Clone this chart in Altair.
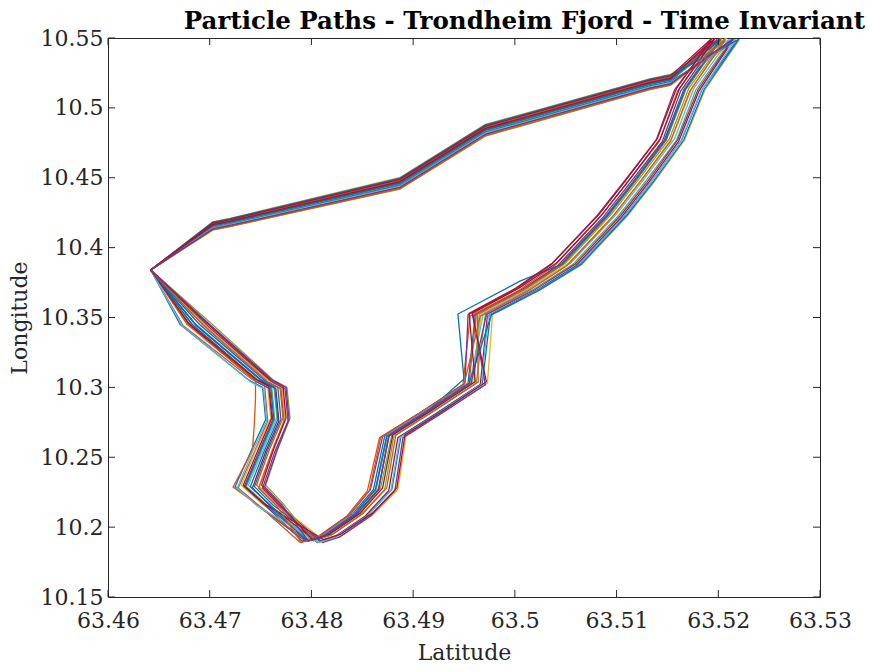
import altair as alt
import pandas as pd

# ---------------- data ----------------
x_ticks = [63.46, 63.47, 63.48, 63.49, 63.50, 63.51, 63.52, 63.53]
y_ticks = [10.15, 10.20, 10.25, 10.30, 10.35, 10.40, 10.45, 10.50, 10.55]

lat_01 = [63.4642, 63.4671, 63.4739, 63.4752, 63.4755, 63.4741, 63.4725, 63.4746, 63.4794, 63.4811, 63.4840, 63.4861, 63.4872, 63.4910, 63.4954, 63.4961, 63.5008, 63.5045, 63.5090, 63.5117, 63.5147, 63.5166, 63.5201, 63.5153, 63.5133, 63.4971, 63.4887, 63.4720, 63.4703, 63.4642]
lon_01 = [10.384, 10.345, 10.305, 10.300, 10.277, 10.255, 10.229, 10.216, 10.190, 10.194, 10.209, 10.227, 10.265, 10.282, 10.303, 10.352, 10.370, 10.388, 10.423, 10.448, 10.477, 10.513, 10.549, 10.5232, 10.5202, 10.4874, 10.4494, 10.4204, 10.4179, 10.384]

lat_02 = [63.4642, 63.4674, 63.4741, 63.4754, 63.4757, 63.4744, 63.4728, 63.4749, 63.4789, 63.4806, 63.4835, 63.4855, 63.4867, 63.4905, 63.4949, 63.4956, 63.5003, 63.5039, 63.5084, 63.5111, 63.5142, 63.5160, 63.5196, 63.5153, 63.5133, 63.4971, 63.4887, 63.4720, 63.4703, 63.4642]
lon_02 = [10.384, 10.344, 10.306, 10.301, 10.276, 10.254, 10.228, 10.215, 10.189, 10.193, 10.208, 10.226, 10.264, 10.281, 10.302, 10.351, 10.369, 10.387, 10.422, 10.447, 10.476, 10.512, 10.549, 10.5184, 10.5154, 10.4823, 10.4443, 10.4168, 10.4143, 10.384]

lat_03 = [63.4642, 63.4677, 63.4744, 63.4757, 63.4760, 63.4746, 63.4731, 63.4751, 63.4798, 63.4815, 63.4845, 63.4866, 63.4877, 63.4914, 63.4958, 63.4967, 63.5014, 63.5053, 63.5098, 63.5125, 63.5154, 63.5174, 63.5208, 63.5153, 63.5133, 63.4971, 63.4887, 63.4720, 63.4703, 63.4642]
lon_03 = [10.384, 10.346, 10.305, 10.300, 10.278, 10.256, 10.230, 10.217, 10.191, 10.195, 10.210, 10.228, 10.266, 10.283, 10.304, 10.353, 10.371, 10.389, 10.424, 10.449, 10.478, 10.514, 10.550, 10.5240, 10.5210, 10.4882, 10.4502, 10.4210, 10.4185, 10.384]

lat_04 = [63.4642, 63.4680, 63.4746, 63.4759, 63.4762, 63.4749, 63.4734, 63.4754, 63.4791, 63.4808, 63.4838, 63.4858, 63.4870, 63.4907, 63.4951, 63.4954, 63.5000, 63.5036, 63.5081, 63.5108, 63.5139, 63.5157, 63.5193, 63.5153, 63.5133, 63.4971, 63.4887, 63.4720, 63.4703, 63.4642]
lon_04 = [10.384, 10.345, 10.304, 10.299, 10.277, 10.255, 10.229, 10.216, 10.190, 10.194, 10.209, 10.227, 10.265, 10.282, 10.303, 10.352, 10.370, 10.388, 10.423, 10.448, 10.477, 10.513, 10.548, 10.5210, 10.5180, 10.4851, 10.4471, 10.4188, 10.4163, 10.384]

lat_05 = [63.4642, 63.4682, 63.4748, 63.4761, 63.4764, 63.4751, 63.4736, 63.4756, 63.4802, 63.4819, 63.4849, 63.4872, 63.4881, 63.4918, 63.4962, 63.4971, 63.5018, 63.5057, 63.5102, 63.5129, 63.5159, 63.5178, 63.5213, 63.5153, 63.5133, 63.4971, 63.4887, 63.4720, 63.4703, 63.4642]
lon_05 = [10.384, 10.345, 10.305, 10.300, 10.277, 10.255, 10.229, 10.216, 10.190, 10.194, 10.209, 10.227, 10.265, 10.282, 10.303, 10.352, 10.370, 10.388, 10.423, 10.448, 10.477, 10.513, 10.549, 10.5160, 10.5130, 10.4798, 10.4418, 10.4150, 10.4125, 10.384]

lat_06 = [63.4642, 63.4685, 63.4750, 63.4763, 63.4766, 63.4753, 63.4738, 63.4758, 63.4796, 63.4813, 63.4843, 63.4864, 63.4875, 63.4912, 63.4956, 63.4969, 63.5016, 63.5055, 63.5100, 63.5127, 63.5157, 63.5176, 63.5211, 63.5153, 63.5133, 63.4971, 63.4887, 63.4720, 63.4703, 63.4642]
lon_06 = [10.384, 10.346, 10.306, 10.301, 10.278, 10.256, 10.230, 10.217, 10.191, 10.195, 10.210, 10.228, 10.266, 10.283, 10.304, 10.353, 10.371, 10.389, 10.424, 10.449, 10.478, 10.514, 10.549, 10.5224, 10.5194, 10.4865, 10.4485, 10.4198, 10.4173, 10.384]

lat_07 = [63.4642, 63.4687, 63.4752, 63.4765, 63.4768, 63.4755, 63.4742, 63.4760, 63.4806, 63.4823, 63.4853, 63.4876, 63.4885, 63.4922, 63.4966, 63.4973, 63.5021, 63.5060, 63.5105, 63.5132, 63.5161, 63.5181, 63.5215, 63.5153, 63.5133, 63.4971, 63.4887, 63.4720, 63.4703, 63.4642]
lon_07 = [10.384, 10.344, 10.304, 10.299, 10.276, 10.254, 10.228, 10.215, 10.189, 10.193, 10.208, 10.226, 10.264, 10.281, 10.302, 10.351, 10.369, 10.387, 10.422, 10.447, 10.476, 10.512, 10.549, 10.5176, 10.5146, 10.4815, 10.4435, 10.4162, 10.4137, 10.384]

lat_08 = [63.4642, 63.4690, 63.4754, 63.4767, 63.4770, 63.4757, 63.4744, 63.4762, 63.4808, 63.4825, 63.4856, 63.4879, 63.4888, 63.4924, 63.4968, 63.4976, 63.5023, 63.5063, 63.5108, 63.5135, 63.5164, 63.5184, 63.5218, 63.5153, 63.5133, 63.4971, 63.4887, 63.4720, 63.4703, 63.4642]
lon_08 = [10.384, 10.345, 10.305, 10.300, 10.277, 10.255, 10.229, 10.216, 10.190, 10.194, 10.209, 10.227, 10.265, 10.282, 10.303, 10.352, 10.370, 10.388, 10.423, 10.448, 10.477, 10.513, 10.548, 10.5190, 10.5160, 10.4830, 10.4450, 10.4173, 10.4148, 10.384]

lat_09 = [63.4642, 63.4692, 63.4756, 63.4769, 63.4772, 63.4759, 63.4746, 63.4764, 63.4804, 63.4821, 63.4851, 63.4874, 63.4883, 63.4920, 63.4964, 63.4963, 63.5010, 63.5047, 63.5092, 63.5119, 63.5149, 63.5168, 63.5203, 63.5153, 63.5133, 63.4971, 63.4887, 63.4720, 63.4703, 63.4642]
lon_09 = [10.384, 10.346, 10.306, 10.301, 10.278, 10.256, 10.230, 10.217, 10.191, 10.195, 10.210, 10.228, 10.266, 10.283, 10.304, 10.353, 10.371, 10.389, 10.424, 10.449, 10.478, 10.514, 10.550, 10.5216, 10.5186, 10.4857, 10.4477, 10.4192, 10.4167, 10.384]

lat_10 = [63.4642, 63.4695, 63.4758, 63.4771, 63.4774, 63.4762, 63.4749, 63.4767, 63.4813, 63.4830, 63.4861, 63.4885, 63.4893, 63.4929, 63.4973, 63.4978, 63.5026, 63.5066, 63.5111, 63.5138, 63.5167, 63.5187, 63.5221, 63.5153, 63.5133, 63.4971, 63.4887, 63.4720, 63.4703, 63.4642]
lon_10 = [10.384, 10.345, 10.305, 10.300, 10.277, 10.255, 10.229, 10.216, 10.190, 10.194, 10.209, 10.227, 10.265, 10.282, 10.303, 10.352, 10.370, 10.388, 10.423, 10.448, 10.477, 10.513, 10.549, 10.5168, 10.5138, 10.4806, 10.4426, 10.4156, 10.4131, 10.384]

lat_11 = [63.4642, 63.4698, 63.4761, 63.4774, 63.4777, 63.4764, 63.4752, 63.4769, 63.4811, 63.4828, 63.4858, 63.4882, 63.4890, 63.4927, 63.4971, 63.4959, 63.5005, 63.5042, 63.5087, 63.5114, 63.5145, 63.5163, 63.5199, 63.5153, 63.5133, 63.4971, 63.4887, 63.4720, 63.4703, 63.4642]
lon_11 = [10.384, 10.344, 10.304, 10.299, 10.276, 10.254, 10.228, 10.215, 10.189, 10.193, 10.208, 10.226, 10.264, 10.281, 10.302, 10.351, 10.369, 10.387, 10.422, 10.447, 10.476, 10.512, 10.549, 10.5204, 10.5174, 10.4844, 10.4464, 10.4183, 10.4158, 10.384]

lat_12 = [63.4642, 63.4701, 63.4763, 63.4776, 63.4779, 63.4767, 63.4755, 63.4772, 63.4800, 63.4817, 63.4847, 63.4868, 63.4879, 63.4916, 63.4960, 63.4965, 63.5012, 63.5050, 63.5095, 63.5122, 63.5152, 63.5171, 63.5206, 63.5153, 63.5133, 63.4971, 63.4887, 63.4720, 63.4703, 63.4642]
lon_12 = [10.384, 10.346, 10.305, 10.300, 10.278, 10.256, 10.230, 10.217, 10.191, 10.195, 10.210, 10.228, 10.266, 10.283, 10.304, 10.353, 10.371, 10.389, 10.424, 10.449, 10.478, 10.514, 10.549, 10.5196, 10.5166, 10.4836, 10.4456, 10.4177, 10.4152, 10.384]

lat_13 = [63.4642, 63.4678, 63.4745, 63.4745, 63.4744, 63.4742, 63.4723, 63.4747, 63.4796, 63.4813, 63.4842, 63.4863, 63.4874, 63.4911, 63.4955, 63.4962, 63.5009, 63.5047, 63.5092, 63.5119, 63.5149, 63.5168, 63.5203, 63.5153, 63.5133, 63.4971, 63.4887, 63.4720, 63.4703, 63.4642]
lon_13 = [10.384, 10.345, 10.305, 10.2924, 10.275, 10.2551, 10.2287, 10.216, 10.190, 10.194, 10.209, 10.227, 10.265, 10.282, 10.303, 10.352, 10.370, 10.388, 10.423, 10.448, 10.477, 10.513, 10.549, 10.5220, 10.5190, 10.4861, 10.4481, 10.4195, 10.4170, 10.384]

lat_14 = [63.4642, 63.4683, 63.4747, 63.4760, 63.4763, 63.4750, 63.4735, 63.4755, 63.4797, 63.4814, 63.4844, 63.4866, 63.4876, 63.4913, 63.4950, 63.4944, 63.5005, 63.5046, 63.5091, 63.5118, 63.5148, 63.5167, 63.5202, 63.5153, 63.5133, 63.4971, 63.4887, 63.4720, 63.4703, 63.4642]
lon_14 = [10.384, 10.345, 10.305, 10.300, 10.277, 10.255, 10.229, 10.216, 10.190, 10.194, 10.209, 10.227, 10.265, 10.282, 10.306, 10.3525, 10.376, 10.388, 10.423, 10.448, 10.477, 10.513, 10.549, 10.5200, 10.5170, 10.4840, 10.4460, 10.4180, 10.4155, 10.384]

lat_15 = [63.4642, 63.4673, 63.4740, 63.4753, 63.4756, 63.4742, 63.4727, 63.4747, 63.4807, 63.4824, 63.4855, 63.4878, 63.4887, 63.4924, 63.4967, 63.4974, 63.5022, 63.5062, 63.5107, 63.5134, 63.5163, 63.5183, 63.5217, 63.5153, 63.5133, 63.4971, 63.4887, 63.4720, 63.4703, 63.4642]
lon_15 = [10.384, 10.344, 10.304, 10.299, 10.276, 10.254, 10.228, 10.215, 10.189, 10.193, 10.208, 10.226, 10.264, 10.281, 10.302, 10.351, 10.369, 10.387, 10.422, 10.447, 10.476, 10.512, 10.549, 10.5180, 10.5150, 10.4819, 10.4439, 10.4165, 10.4140, 10.384]

lat_16 = [63.4642, 63.4679, 63.4745, 63.4758, 63.4761, 63.4748, 63.4733, 63.4753, 63.4812, 63.4829, 63.4860, 63.4884, 63.4892, 63.4929, 63.4972, 63.4958, 63.5004, 63.5041, 63.5086, 63.5113, 63.5143, 63.5162, 63.5197, 63.5153, 63.5133, 63.4971, 63.4887, 63.4720, 63.4703, 63.4642]
lon_16 = [10.384, 10.346, 10.306, 10.301, 10.278, 10.256, 10.230, 10.217, 10.191, 10.195, 10.210, 10.228, 10.266, 10.283, 10.304, 10.353, 10.371, 10.389, 10.424, 10.449, 10.478, 10.514, 10.550, 10.5212, 10.5182, 10.4853, 10.4473, 10.4189, 10.4164, 10.384]

lat_17 = [63.4642, 63.4686, 63.4751, 63.4764, 63.4767, 63.4754, 63.4740, 63.4759, 63.4795, 63.4812, 63.4842, 63.4863, 63.4874, 63.4911, 63.4955, 63.4977, 63.5025, 63.5065, 63.5110, 63.5137, 63.5166, 63.5186, 63.5220, 63.5153, 63.5133, 63.4971, 63.4887, 63.4720, 63.4703, 63.4642]
lon_17 = [10.384, 10.345, 10.305, 10.300, 10.277, 10.255, 10.229, 10.216, 10.190, 10.194, 10.209, 10.227, 10.265, 10.282, 10.303, 10.352, 10.370, 10.388, 10.423, 10.448, 10.477, 10.513, 10.549, 10.5236, 10.5206, 10.4878, 10.4498, 10.4207, 10.4182, 10.384]

lat_18 = [63.4642, 63.4694, 63.4757, 63.4770, 63.4773, 63.4761, 63.4748, 63.4766, 63.4790, 63.4807, 63.4836, 63.4857, 63.4868, 63.4905, 63.4950, 63.4966, 63.5013, 63.5051, 63.5096, 63.5123, 63.5153, 63.5172, 63.5207, 63.5153, 63.5133, 63.4971, 63.4887, 63.4720, 63.4703, 63.4642]
lon_18 = [10.384, 10.344, 10.304, 10.299, 10.276, 10.254, 10.228, 10.215, 10.189, 10.193, 10.208, 10.226, 10.264, 10.281, 10.302, 10.351, 10.369, 10.387, 10.422, 10.447, 10.476, 10.512, 10.549, 10.5164, 10.5134, 10.4802, 10.4422, 10.4153, 10.4128, 10.384]

lat_19 = [63.4642, 63.4697, 63.4759, 63.4772, 63.4775, 63.4763, 63.4751, 63.4768, 63.4801, 63.4818, 63.4848, 63.4870, 63.4880, 63.4917, 63.4961, 63.4955, 63.5001, 63.5037, 63.5083, 63.5110, 63.5140, 63.5159, 63.5194, 63.5153, 63.5133, 63.4971, 63.4887, 63.4720, 63.4703, 63.4642]
lon_19 = [10.384, 10.346, 10.306, 10.301, 10.278, 10.256, 10.230, 10.217, 10.191, 10.195, 10.210, 10.228, 10.266, 10.283, 10.304, 10.353, 10.371, 10.389, 10.424, 10.449, 10.478, 10.514, 10.550, 10.5228, 10.5198, 10.4869, 10.4489, 10.4201, 10.4176, 10.384]

lat_20 = [63.4642, 63.4700, 63.4762, 63.4775, 63.4778, 63.4766, 63.4754, 63.4771, 63.4797, 63.4814, 63.4844, 63.4866, 63.4876, 63.4913, 63.4957, 63.4972, 63.5020, 63.5059, 63.5104, 63.5131, 63.5160, 63.5180, 63.5214, 63.5153, 63.5133, 63.4971, 63.4887, 63.4720, 63.4703, 63.4642]
lon_20 = [10.384, 10.345, 10.305, 10.300, 10.277, 10.255, 10.229, 10.216, 10.190, 10.194, 10.209, 10.227, 10.265, 10.282, 10.303, 10.352, 10.370, 10.388, 10.423, 10.448, 10.477, 10.513, 10.549, 10.5172, 10.5142, 10.4811, 10.4431, 10.4159, 10.4134, 10.384]

path_names = ["p01", "p02", "p03", "p04", "p05", "p06", "p07", "p08", "p09", "p10",
              "p11", "p12", "p13", "p14", "p15", "p16", "p17", "p18", "p19", "p20"]
path_colors = ["#0072BD", "#D95319", "#EDB120", "#7E2F8E", "#77AC30", "#4DBEEE", "#A2142F",
               "#0072BD", "#D95319", "#EDB120", "#7E2F8E", "#77AC30", "#D95319", "#0072BD",
               "#4DBEEE", "#A2142F", "#0072BD", "#D95319", "#A2142F", "#7E2F8E"]

lat_series = [lat_01, lat_02, lat_03, lat_04, lat_05, lat_06, lat_07, lat_08, lat_09, lat_10,
              lat_11, lat_12, lat_13, lat_14, lat_15, lat_16, lat_17, lat_18, lat_19, lat_20]
lon_series = [lon_01, lon_02, lon_03, lon_04, lon_05, lon_06, lon_07, lon_08, lon_09, lon_10,
              lon_11, lon_12, lon_13, lon_14, lon_15, lon_16, lon_17, lon_18, lon_19, lon_20]

rows = []
for name, la, lo in zip(path_names, lat_series, lon_series):
    for i, (a, b) in enumerate(zip(la, lo)):
        rows.append({"path": name, "i": i, "lat": a, "lon": b})
df = pd.DataFrame(rows)
xt = pd.DataFrame({"lat": x_ticks})
yt = pd.DataFrame({"lon": y_ticks})

# ---------------- chart ----------------
FONT = "DejaVu Serif"
INK = "#262626"
W, H = 712, 559
TICK = 7

x_scale = alt.Scale(domain=[63.46, 63.53], nice=False, zero=False)
y_scale = alt.Scale(domain=[10.15, 10.55], nice=False, zero=False)
x_axis = alt.Axis(values=x_ticks, format=".2~f", title="Latitude", ticks=False,
                  domain=False, grid=False, labelPadding=13, titlePadding=11,
                  labelFontSize=22, titleFontSize=22, labelFlush=False,
                  labelFont=FONT, titleFont=FONT, labelColor=INK, titleColor=INK,
                  titleFontWeight="normal")
y_axis = alt.Axis(values=y_ticks, format=".2~f", title="Longitude", ticks=False,
                  domain=False, grid=False, labelPadding=5, titlePadding=9,
                  labelFontSize=22, titleFontSize=22, labelFlush=False,
                  labelFont=FONT, titleFont=FONT, labelColor=INK, titleColor=INK,
                  titleFontWeight="normal")

lines = alt.Chart(df).mark_line(strokeWidth=1.3, clip=True).encode(
    x=alt.X("lat:Q", scale=x_scale, axis=x_axis),
    y=alt.Y("lon:Q", scale=y_scale, axis=y_axis),
    color=alt.Color("path:N", scale=alt.Scale(domain=path_names, range=path_colors), legend=None),
    detail="path:N",
    order=alt.Order("i:Q"),
)

tick_bottom = alt.Chart(xt).mark_rule(color=INK, strokeWidth=1).encode(
    x=alt.X("lat:Q", scale=x_scale, axis=x_axis), y=alt.value(H), y2=alt.value(H - TICK))
tick_top = alt.Chart(xt).mark_rule(color=INK, strokeWidth=1).encode(
    x=alt.X("lat:Q", scale=x_scale, axis=x_axis), y=alt.value(0), y2=alt.value(TICK))
tick_left = alt.Chart(yt).mark_rule(color=INK, strokeWidth=1).encode(
    y=alt.Y("lon:Q", scale=y_scale, axis=y_axis), x=alt.value(0), x2=alt.value(TICK))
tick_right = alt.Chart(yt).mark_rule(color=INK, strokeWidth=1).encode(
    y=alt.Y("lon:Q", scale=y_scale, axis=y_axis), x=alt.value(W), x2=alt.value(W - TICK))

chart = alt.layer(lines, tick_bottom, tick_top, tick_left, tick_right).properties(
    width=W, height=H,
    background="white",
    autosize=alt.AutoSizeParams(type="none"),
    padding={"left": 108, "top": 38, "right": 49, "bottom": 74},
    title=alt.TitleParams(
        "Particle Paths - Trondheim Fjord - Time Invariant",
        anchor="end", frame="group", dx=45, offset=-7,
        font=FONT, fontSize=24.5, fontWeight="bold", color="#000000",
    ),
).configure_view(stroke=INK, strokeWidth=1)

chart.save("out.html", embed_options={"renderer": "svg", "actions": False})
